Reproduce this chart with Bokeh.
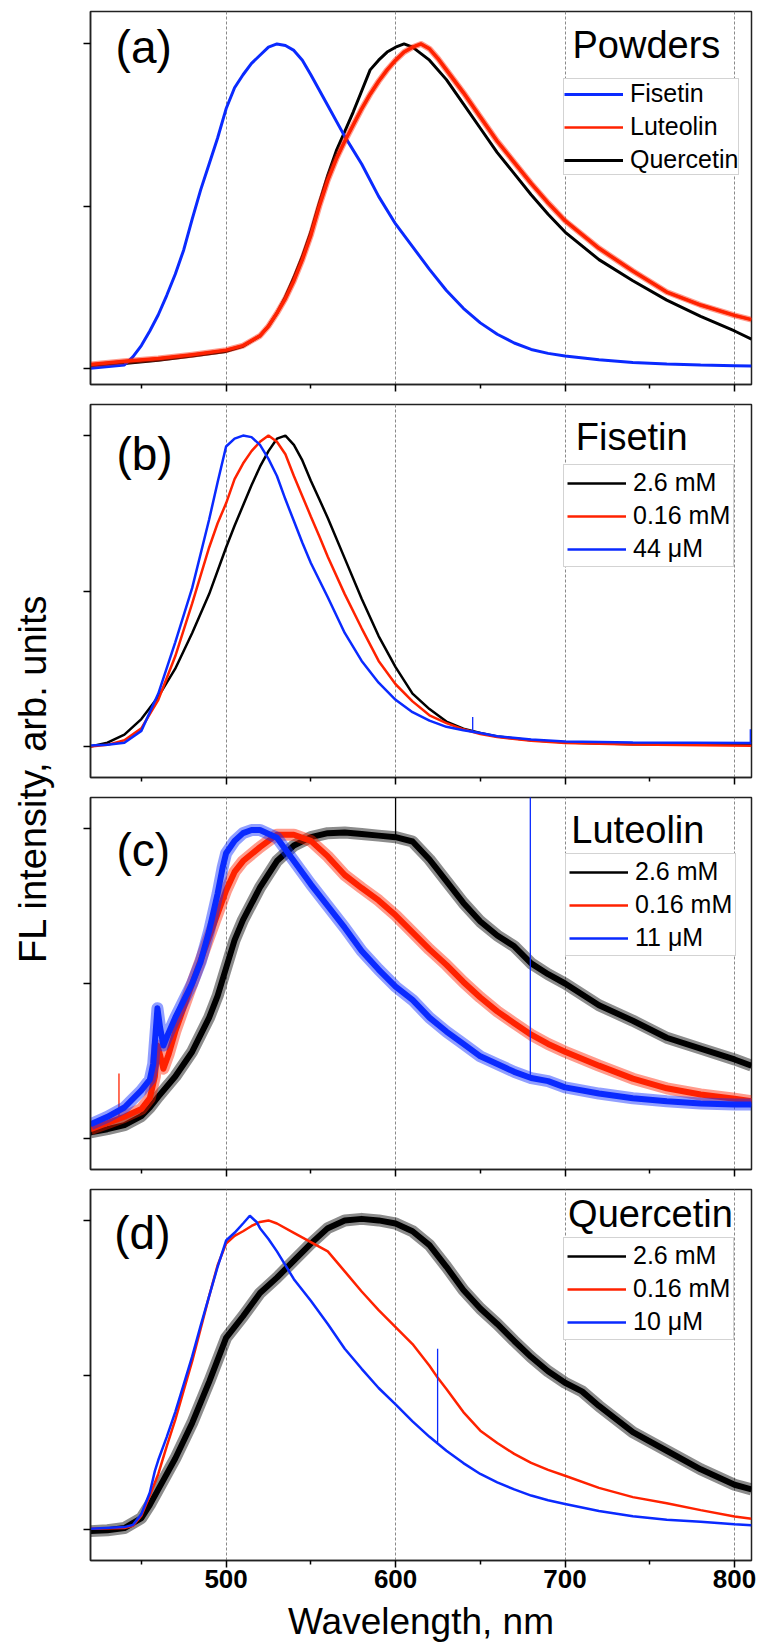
import math
from bokeh.plotting import figure
from bokeh.models import Range1d, FixedTicker, Label, Legend, LegendItem, CustomLabelingPolicy
from bokeh.layouts import column, row
from bokeh.embed import file_html
from bokeh.resources import INLINE

FONT = "Liberation Sans"
BLUE = "#0a2aff"
RED = "#ff2200"
BLACK = "#000000"

# ---------------- data ----------------
# Panel (a): powders
a_fis_wl = [420, 440, 445, 450, 455, 460, 465, 470, 475, 480, 485, 490, 495, 500, 505, 510, 515, 520, 525, 530,
            535, 540, 545, 550, 560, 570, 580, 590, 600, 610, 620, 630, 640, 650, 660, 670, 680, 690, 700, 720,
            740, 760, 780, 800, 810]
a_fis = [0.00, 0.01, 0.035, 0.07, 0.115, 0.165, 0.225, 0.29, 0.365, 0.46, 0.55, 0.63, 0.71, 0.80, 0.865, 0.905,
         0.94, 0.965, 0.99, 1.0, 0.995, 0.98, 0.95, 0.905, 0.81, 0.715, 0.63, 0.53, 0.445, 0.375, 0.305, 0.24,
         0.185, 0.14, 0.105, 0.078, 0.058, 0.046, 0.038, 0.026, 0.018, 0.013, 0.010, 0.008, 0.007]

a_lut_wl = [420, 440, 460, 480, 500, 510, 520, 525, 530, 535, 540, 545, 550, 555, 560, 565, 570, 575, 580, 585,
            590, 595, 600, 605, 610, 615, 620, 625, 630, 640, 650, 660, 670, 680, 690, 700, 720, 740, 760, 780,
            800, 810]
a_lut = [0.012, 0.022, 0.03, 0.042, 0.056, 0.07, 0.10, 0.13, 0.17, 0.215, 0.27, 0.335, 0.41, 0.5, 0.58, 0.645,
         0.70, 0.75, 0.80, 0.845, 0.885, 0.92, 0.95, 0.975, 0.99, 1.0, 0.985, 0.955, 0.92, 0.85, 0.775, 0.70,
         0.635, 0.57, 0.51, 0.455, 0.37, 0.30, 0.235, 0.195, 0.163, 0.15]

a_que_wl = [420, 440, 460, 480, 500, 510, 520, 525, 530, 535, 540, 545, 550, 555, 560, 565, 570, 575, 580, 585,
            590, 595, 600, 605, 610, 615, 620, 630, 640, 650, 660, 670, 680, 690, 700, 720, 740, 760, 780, 800, 810]
a_que = [0.008, 0.015, 0.025, 0.038, 0.052, 0.068, 0.10, 0.13, 0.17, 0.22, 0.28, 0.345, 0.42, 0.51, 0.595, 0.67,
         0.73, 0.79, 0.855, 0.92, 0.95, 0.975, 0.99, 1.0, 0.99, 0.97, 0.95, 0.89, 0.815, 0.74, 0.665, 0.60, 0.535,
         0.475, 0.42, 0.335, 0.27, 0.21, 0.16, 0.115, 0.09]

# Panel (b): fisetin solutions
b_26_wl = [420, 430, 440, 450, 460, 470, 480, 490, 500, 505, 510, 515, 520, 525, 530, 535, 540, 545, 550, 555,
           560, 570, 580, 590, 600, 610, 620, 630, 640, 650, 660, 680, 700, 740, 810]
b_26 = [0.0, 0.012, 0.038, 0.088, 0.16, 0.25, 0.365, 0.49, 0.64, 0.71, 0.775, 0.84, 0.9, 0.95, 0.99, 1.0, 0.97,
        0.92, 0.855, 0.795, 0.735, 0.605, 0.475, 0.355, 0.255, 0.17, 0.12, 0.08, 0.057, 0.043, 0.032, 0.02,
        0.013, 0.007, 0.005]

b_016_wl = [420, 430, 440, 450, 460, 470, 480, 490, 495, 500, 505, 510, 515, 520, 525, 530, 535, 540, 545, 550,
            555, 560, 570, 580, 590, 600, 610, 620, 630, 640, 650, 660, 680, 700, 740, 810]
b_016 = [0.0, 0.005, 0.02, 0.058, 0.15, 0.29, 0.46, 0.64, 0.718, 0.782, 0.86, 0.91, 0.95, 0.98, 1.0, 0.98, 0.94,
         0.87, 0.805, 0.74, 0.676, 0.61, 0.49, 0.38, 0.275, 0.2, 0.145, 0.1, 0.075, 0.055, 0.04, 0.03, 0.018,
         0.011, 0.006, 0.002]

b_44_wl = [420, 430, 440, 450, 460, 470, 480, 490, 495, 500, 505, 510, 515, 520, 525, 530, 535, 540, 545, 550,
           560, 570, 580, 590, 600, 610, 620, 630, 640, 650, 660, 680, 700, 740, 810]
b_44 = [0.003, 0.005, 0.012, 0.05, 0.17, 0.335, 0.51, 0.73, 0.85, 0.965, 0.99, 1.0, 0.995, 0.97, 0.925, 0.87,
        0.795, 0.725, 0.655, 0.59, 0.48, 0.365, 0.275, 0.205, 0.15, 0.11, 0.083, 0.063, 0.052, 0.043, 0.033,
        0.022, 0.016, 0.013, 0.011]
# narrow spikes of the 44 uM spectrum: position, base, top
b_44_spike_wl = [645.5, 809.3]
b_44_spike_lo = [0.047, 0.011]
b_44_spike_hi = [0.095, 0.055]

# Panel (c): luteolin solutions
c_26_wl = [420, 430, 440, 450, 455, 460, 470, 480, 490, 495, 500, 505, 510, 520, 530, 540, 550, 560, 570, 580,
           590, 600, 610, 620, 630, 640, 650, 660, 670, 680, 690, 700, 720, 740, 760, 780, 800, 810]
c_26 = [0.02, 0.03, 0.043, 0.072, 0.1, 0.135, 0.2, 0.28, 0.39, 0.46, 0.55, 0.64, 0.705, 0.81, 0.895, 0.945,
        0.972, 0.985, 0.987, 0.982, 0.977, 0.972, 0.958, 0.9, 0.83, 0.76, 0.7, 0.655, 0.62, 0.565, 0.53, 0.5,
        0.43, 0.38, 0.325, 0.29, 0.255, 0.235]
c_26_spike_wl = [600.0]
c_26_spike_lo = [0.97]
c_26_spike_hi = [1.1]

c_016_wl = [420, 430, 440, 450, 455, 458, 459.5, 461, 463, 466, 470, 480, 490, 500, 505, 510, 520, 530, 540, 550,
            560, 570, 580, 590, 600, 610, 620, 630, 640, 650, 660, 670, 680, 690, 700, 720, 740, 760, 780, 800, 810]
c_016 = [0.03, 0.05, 0.07, 0.095, 0.13, 0.2, 0.3, 0.27, 0.225, 0.27, 0.345, 0.5, 0.65, 0.8, 0.86, 0.895, 0.94,
         0.98, 0.98, 0.96, 0.91, 0.85, 0.808, 0.768, 0.72, 0.665, 0.61, 0.56, 0.505, 0.455, 0.41, 0.372, 0.335,
         0.305, 0.28, 0.235, 0.193, 0.162, 0.142, 0.128, 0.12]
c_016_spike_wl = [436.8]
c_016_spike_lo = [0.062]
c_016_spike_hi = [0.21]

c_11_wl = [420, 430, 440, 450, 455, 457, 459.5, 461, 463, 466, 470, 480, 485, 490, 495, 498, 500, 505, 510, 515,
           520, 530, 540, 550, 560, 570, 580, 590, 600, 610, 620, 630, 640, 650, 660, 670, 680, 690, 700, 720,
           740, 760, 780, 800, 810]
c_11 = [0.046, 0.07, 0.1, 0.155, 0.19, 0.24, 0.42, 0.36, 0.3, 0.34, 0.39, 0.5, 0.57, 0.67, 0.79, 0.875, 0.92,
        0.96, 0.985, 0.995, 0.995, 0.97, 0.895, 0.82, 0.75, 0.68, 0.605, 0.545, 0.49, 0.447, 0.39, 0.345, 0.305,
        0.265, 0.24, 0.215, 0.195, 0.185, 0.165, 0.145, 0.13, 0.12, 0.113, 0.11, 0.11]
c_11_spike_wl = [679.5]
c_11_spike_lo = [0.195]
c_11_spike_hi = [1.12]

# Panel (d): quercetin solutions
d_26_wl = [420, 430, 440, 450, 455, 460, 470, 480, 490, 500, 510, 520, 530, 540, 550, 560, 570, 580, 590, 600,
           610, 620, 630, 640, 650, 660, 670, 680, 690, 700, 710, 720, 740, 760, 780, 800, 810]
d_26 = [-0.005, -0.002, 0.005, 0.037, 0.08, 0.13, 0.23, 0.345, 0.478, 0.62, 0.69, 0.765, 0.815, 0.87, 0.925,
        0.975, 1.0, 1.005, 1.0, 0.99, 0.965, 0.92, 0.85, 0.775, 0.715, 0.665, 0.61, 0.558, 0.512, 0.475, 0.447,
        0.4, 0.315, 0.255, 0.195, 0.145, 0.13]

d_016_wl = [420, 440, 445, 450, 455, 460, 465, 470, 475, 480, 485, 490, 495, 500, 505, 510, 515, 520, 525, 530,
            540, 550, 560, 570, 580, 590, 600, 610, 620, 625, 630, 640, 650, 660, 670, 680, 690, 700, 720, 740,
            760, 780, 800, 810]
d_016 = [0.003, 0.005, 0.012, 0.045, 0.11, 0.18, 0.27, 0.355, 0.45, 0.545, 0.65, 0.755, 0.855, 0.925, 0.95,
         0.965, 0.982, 0.995, 1.0, 0.99, 0.96, 0.93, 0.9, 0.835, 0.77, 0.71, 0.655, 0.6, 0.53, 0.49, 0.455, 0.38,
         0.32, 0.28, 0.245, 0.216, 0.193, 0.174, 0.135, 0.105, 0.085, 0.063, 0.042, 0.035]

d_10_wl = [420, 440, 445, 450, 455, 458, 460, 465, 470, 475, 480, 485, 490, 495, 500, 505, 510, 514, 518, 520,
           525, 530, 540, 550, 560, 570, 580, 590, 600, 610, 620, 630, 640, 650, 660, 670, 680, 690, 700, 720,
           740, 760, 780, 800, 810]
d_10 = [0.003, 0.008, 0.015, 0.05, 0.12, 0.19, 0.225, 0.3, 0.38, 0.47, 0.56, 0.66, 0.755, 0.85, 0.935, 0.96,
        0.99, 1.015, 0.995, 0.975, 0.94, 0.9, 0.81, 0.74, 0.665, 0.585, 0.52, 0.458, 0.405, 0.35, 0.3, 0.255,
        0.215, 0.18, 0.153, 0.13, 0.11, 0.095, 0.083, 0.06, 0.043, 0.032, 0.025, 0.017, 0.014]
d_10_spike_wl = [624.8]
d_10_spike_lo = [0.282]
d_10_spike_hi = [0.585]

x_major = [500, 600, 700, 800]
x_minor = [450, 550, 650, 750]
x_labels = {500: "500", 600: "600", 700: "700", 800: "800"}
y_ticks = [0, 0.5, 1.0]

NO_LABELS = "return []"


# ---------------- figures ----------------
def make_panel(ylim, height, top, bottom, last=False):
    p = figure(width=703, height=height, x_range=Range1d(420, 810), y_range=Range1d(*ylim),
               output_backend="svg", toolbar_location=None,
               min_border_left=35, min_border_right=7, min_border_top=top, min_border_bottom=bottom)
    p.background_fill_color = "white"
    p.border_fill_color = "white"
    p.outline_line_color = "#222222"
    p.outline_line_width = 1.5
    p.ygrid.visible = False
    p.xgrid.ticker = FixedTicker(ticks=x_major)
    p.xgrid.grid_line_color = "#8a8a8a"
    p.xgrid.grid_line_dash = "3 2"
    p.xgrid.grid_line_width = 1

    xa = p.xaxis[0]
    xa.ticker = FixedTicker(ticks=x_major, minor_ticks=x_minor)
    xa.axis_line_color = "#222222"
    xa.axis_line_width = 1.5
    xa.major_tick_line_width = 1.5
    xa.minor_tick_line_width = 1.5
    xa.major_tick_out = 7
    xa.major_tick_in = 0
    xa.minor_tick_out = 4
    xa.minor_tick_in = 0
    if last:
        xa.major_label_overrides = x_labels
        xa.major_label_text_font = FONT
        xa.major_label_text_font_size = "26px"
        xa.major_label_text_font_style = "bold"
        xa.major_label_text_color = "black"
        xa.major_label_standoff = 2
        xa.axis_label = "Wavelength, nm"
        xa.axis_label_text_font = FONT
        xa.axis_label_text_font_size = "37px"
        xa.axis_label_text_font_style = "normal"
        xa.axis_label_text_color = "black"
        xa.axis_label_standoff = 10
    else:
        xa.major_label_policy = CustomLabelingPolicy(code=NO_LABELS)
        xa.major_label_text_font_size = "1px"
        xa.major_label_standoff = 0

    ya = p.yaxis[0]
    ya.ticker = FixedTicker(ticks=y_ticks, minor_ticks=[])
    ya.axis_line_color = "#222222"
    ya.axis_line_width = 1.5
    ya.major_tick_line_width = 1.5
    ya.major_tick_out = 7
    ya.major_tick_in = 0
    ya.minor_tick_out = 0
    ya.minor_tick_in = 0
    ya.major_label_policy = CustomLabelingPolicy(code=NO_LABELS)
    ya.major_label_text_font_size = "1px"
    ya.major_label_standoff = 0
    return p


def add_text(p, x, y, text, size, baseline="alphabetic"):
    p.add_layout(Label(x=x, y=y, text=text, text_font=FONT, text_font_size=size,
                       text_color="black", text_align="left", text_baseline=baseline))


def add_legend(p, items, loc, padding):
    leg = Legend(items=[LegendItem(label=lab, renderers=[r]) for lab, r in items], location=loc,
                 orientation="vertical", label_text_font=FONT, label_text_font_size="25px",
                 label_text_color="black", glyph_width=59, glyph_height=28, label_height=28,
                 label_standoff=7, spacing=4, padding=padding, margin=0,
                 border_line_color="#a8a8a8", border_line_width=1.2,
                 background_fill_color="white", background_fill_alpha=1.0)
    p.add_layout(leg)


def noisy(p, x, y, color, band, core):
    # a noisy spectrum: translucent fringe, dense core, thin centre line (used for the legend)
    p.line(x, y, line_color=color, line_width=band, line_alpha=0.45, line_join="round")
    p.line(x, y, line_color=color, line_width=core, line_join="round")
    return p.line(x, y, line_color=color, line_width=2.5, line_join="round")


def spikes(p, x, lo, hi, color):
    p.segment(x0=x, y0=lo, x1=x, y1=hi, line_color=color, line_width=1.3)


# panel (a)
pa = make_panel((-0.05, 1.1), 395, 11, 8)
ra_q = pa.line(a_que_wl, a_que, line_color=BLACK, line_width=3)
ra_f = pa.line(a_fis_wl, a_fis, line_color=BLUE, line_width=3)
ra_l = noisy(pa, a_lut_wl, a_lut, RED, 6, 3.5)
add_text(pa, 434.8, 0.990, "(a)", "46px", "middle")
add_text(pa, 704.4, 0.997, "Powders", "38px")
add_legend(pa, [("Fisetin", ra_f), ("Luteolin", ra_l), ("Quercetin", ra_q)], (473, 209), 0)

# panel (b)
pb = make_panel((-0.1, 1.1), 393, 9, 9)
rb1 = pb.line(b_26_wl, b_26, line_color=BLACK, line_width=2.5)
rb2 = pb.line(b_016_wl, b_016, line_color=RED, line_width=2.5)
rb3 = pb.line(b_44_wl, b_44, line_color=BLUE, line_width=2.5)
spikes(pb, b_44_spike_wl, b_44_spike_lo, b_44_spike_hi, BLUE)
add_text(pb, 435.3, 0.940, "(b)", "46px", "middle")
add_text(pb, 706.3, 0.997, "Fisetin", "38px")
add_legend(pb, [("2.6 mM", rb1), ("0.16 mM", rb2), ("44 \u03bcM", rb3)], (473, 210), 3)

# panel (c)
pc = make_panel((-0.1, 1.1), 392, 9, 8)
rc1 = noisy(pc, c_26_wl, c_26, BLACK, 12, 6)
spikes(pc, c_26_spike_wl, c_26_spike_lo, c_26_spike_hi, BLACK)
rc2 = noisy(pc, c_016_wl, c_016, RED, 12, 6)
spikes(pc, c_016_spike_wl, c_016_spike_lo, c_016_spike_hi, RED)
rc3 = noisy(pc, c_11_wl, c_11, BLUE, 12, 6)
spikes(pc, c_11_spike_wl, c_11_spike_lo, c_11_spike_hi, BLUE)
add_text(pc, 435.3, 0.931, "(c)", "46px", "middle")
add_text(pc, 703.7, 0.996, "Luteolin", "38px")
add_legend(pc, [("2.6 mM", rc1), ("0.16 mM", rc2), ("11 \u03bcM", rc3)], (475, 213), 3)

# panel (d)
pd_ = make_panel((-0.1, 1.1), 464, 9, 80, last=True)
rd1 = noisy(pd_, d_26_wl, d_26, BLACK, 12, 6)
rd2 = pd_.line(d_016_wl, d_016, line_color=RED, line_width=2.5)
rd3 = pd_.line(d_10_wl, d_10, line_color=BLUE, line_width=2.5)
spikes(pd_, d_10_spike_wl, d_10_spike_lo, d_10_spike_hi, BLUE)
add_text(pd_, 434.0, 0.960, "(d)", "46px", "middle")
add_text(pd_, 701.8, 1.022, "Quercetin", "38px")
add_legend(pd_, [("2.6 mM", rd1), ("0.16 mM", rd2), ("10 \u03bcM", rd3)], (473, 220), 3)

# shared y label
ylab = figure(width=55, height=1644, x_range=Range1d(0, 55), y_range=Range1d(0, 1644),
              output_backend="svg", toolbar_location=None, x_axis_location=None, y_axis_location=None,
              min_border=0)
ylab.grid.visible = False
ylab.outline_line_color = None
ylab.background_fill_color = "white"
ylab.border_fill_color = "white"
ylab.add_layout(Label(x=32, y=866, text="FL intensity, arb. units", angle=math.pi / 2,
                      text_align="center", text_baseline="middle", text_font=FONT,
                      text_font_size="38px", text_color="black"))

layout = row(ylab, column(pa, pb, pc, pd_, spacing=0), spacing=0)

open("out.html", "w").write(file_html(layout, INLINE))
